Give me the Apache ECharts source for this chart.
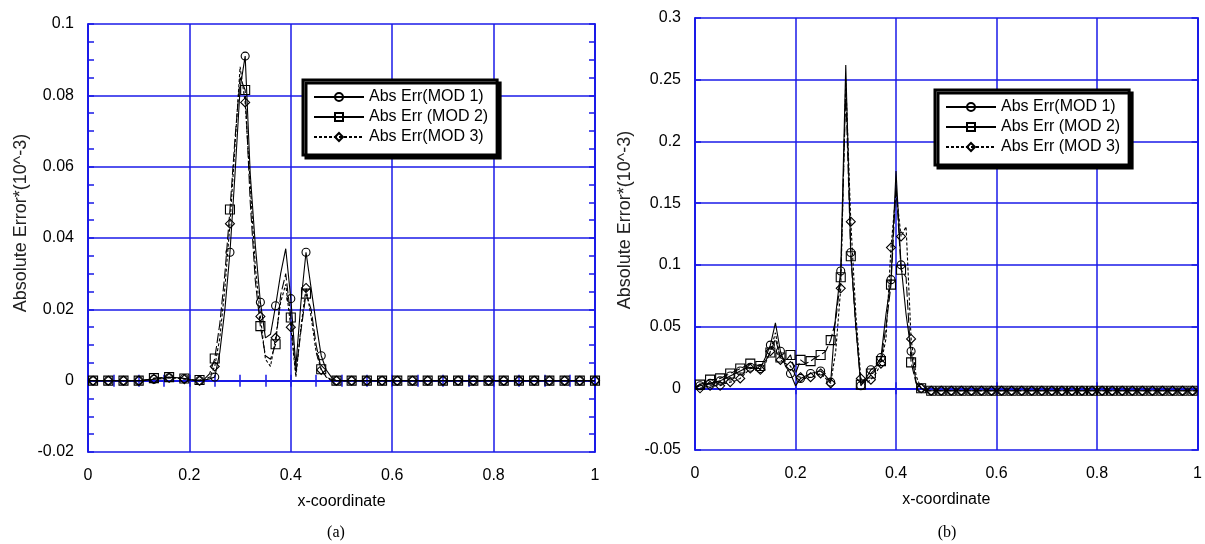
<!DOCTYPE html>
<html>
<head>
<meta charset="utf-8">
<title>Absolute Error</title>
<script src="https://cdn.jsdelivr.net/npm/echarts@6/dist/echarts.min.js"></script>
<style>
  html, body { margin: 0; padding: 0; background: #fff; }
  #main { width: 1205px; height: 544px; }
</style>
</head>
<body>
<div id="main"></div>
<script>
// sampling grid of both panels (0 .. 1, every 0.01)
var xs = [];
for (var i = 0; i <= 100; i++) xs.push(i / 100);

// panel (a)
var errA1 = [
  0, 0, 0, 0, 0, 0, 0, 0, 0, 0,
  0, 0, 0.0002, 0.0004, 0.0005, 0.0006, 0.0008, 0.0009, 0.0008, 0.0006,
  0.0003, 0.0001, 0, 0.0002, 0.0005, 0.001, 0.008, 0.02, 0.036, 0.058,
  0.082, 0.091, 0.058, 0.038, 0.022, 0.012, 0.013, 0.021, 0.03, 0.037,
  0.023, 0.004, 0.022, 0.036, 0.026, 0.016, 0.007, 0.003, 0.001, 0,
  0, 0, 0, 0, 0, 0, 0, 0, 0, 0,
  0, 0, 0, 0, 0, 0, 0, 0, 0, 0,
  0, 0, 0, 0, 0, 0, 0, 0, 0, 0,
  0, 0, 0, 0, 0, 0, 0, 0, 0, 0,
  0, 0, 0, 0, 0, 0, 0, 0, 0, 0,
  0
];
var errA2 = [
  0, 0, 0, 0, 0, 0, 0, 0, 0, 0,
  0, 0.0002, 0.0004, 0.0007, 0.0008, 0.0009, 0.001, 0.0009, 0.0008, 0.0006,
  0.0004, 0.0002, 0.0002, 0.0005, 0.002, 0.0062, 0.016, 0.03, 0.048, 0.068,
  0.085, 0.0815, 0.05, 0.028, 0.0153, 0.007, 0.006, 0.0102, 0.024, 0.03,
  0.0177, 0.002, 0.014, 0.0244, 0.02, 0.01, 0.0032, 0.001, 0.0003, 0,
  0, 0, 0, 0, 0, 0, 0, 0, 0, 0,
  0, 0, 0, 0, 0, 0, 0, 0, 0, 0,
  0, 0, 0, 0, 0, 0, 0, 0, 0, 0,
  0, 0, 0, 0, 0, 0, 0, 0, 0, 0,
  0, 0, 0, 0, 0, 0, 0, 0, 0, 0,
  0
];
var errA3 = [
  0, 0, 0, 0, 0, 0, 0, 0, 0, 0,
  0, 0.0001, 0.0003, 0.0005, 0.0006, 0.0007, 0.0008, 0.0007, 0.0006, 0.0004,
  0.0002, 0.0001, 0, 0.0003, 0.001, 0.004, 0.012, 0.026, 0.044, 0.066,
  0.088, 0.078, 0.055, 0.032, 0.018, 0.006, 0.004, 0.012, 0.022, 0.027,
  0.015, 0.001, 0.015, 0.026, 0.018, 0.008, 0.003, 0.001, 0, 0,
  0, 0, 0, 0, 0, 0, 0, 0, 0, 0,
  0, 0, 0, 0, 0, 0, 0, 0, 0, 0,
  0, 0, 0, 0, 0, 0, 0, 0, 0, 0,
  0, 0, 0, 0, 0, 0, 0, 0, 0, 0,
  0, 0, 0, 0, 0, 0, 0, 0, 0, 0,
  0
];

// panel (b)
var errB1 = [
  0, 0.002, 0.003, 0.004, 0.005, 0.006, 0.008, 0.010, 0.012, 0.014,
  0.016, 0.017, 0.016, 0.016, 0.025, 0.035, 0.053, 0.030, 0.018, 0.012,
  0.002, 0.008, 0.010, 0.012, 0.013, 0.014, 0.010, 0.005, 0.060, 0.095,
  0.262, 0.110, 0.050, 0.002, 0.008, 0.015, 0.018, 0.025, 0.060, 0.088,
  0.176, 0.100, 0.060, 0.030, 0.005, 0, -0.002, -0.002, -0.002, -0.002,
  -0.002, -0.002, -0.002, -0.002, -0.002, -0.002, -0.002, -0.002, -0.002, -0.002,
  -0.002, -0.002, -0.002, -0.002, -0.002, -0.002, -0.002, -0.002, -0.002, -0.002,
  -0.002, -0.002, -0.002, -0.002, -0.002, -0.002, -0.002, -0.002, -0.002, -0.002,
  -0.002, -0.002, -0.002, -0.002, -0.002, -0.002, -0.002, -0.002, -0.002, -0.002,
  -0.002, -0.002, -0.002, -0.002, -0.002, -0.002, -0.002, -0.002, -0.002, -0.002,
  -0.002
];
var errB2 = [
  0.001, 0.003, 0.005, 0.007, 0.007, 0.008, 0.010, 0.012, 0.014, 0.016,
  0.018, 0.020, 0.019, 0.018, 0.022, 0.029, 0.040, 0.025, 0.022, 0.027,
  0.012, 0.023, 0.020, 0.022, 0.025, 0.027, 0.030, 0.039, 0.055, 0.090,
  0.240, 0.107, 0.050, 0.003, 0.006, 0.012, 0.016, 0.022, 0.050, 0.084,
  0.165, 0.096, 0.090, 0.021, 0.004, 0, -0.002, -0.002, -0.002, -0.002,
  -0.002, -0.002, -0.002, -0.002, -0.002, -0.002, -0.002, -0.002, -0.002, -0.002,
  -0.002, -0.002, -0.002, -0.002, -0.002, -0.002, -0.002, -0.002, -0.002, -0.002,
  -0.002, -0.002, -0.002, -0.002, -0.002, -0.002, -0.002, -0.002, -0.002, -0.002,
  -0.002, -0.002, -0.002, -0.002, -0.002, -0.002, -0.002, -0.002, -0.002, -0.002,
  -0.002, -0.002, -0.002, -0.002, -0.002, -0.002, -0.002, -0.002, -0.002, -0.002,
  -0.002
];
var errB3 = [
  0, 0, 0.001, 0.002, 0.002, 0.002, 0.004, 0.005, 0.006, 0.008,
  0.012, 0.016, 0.016, 0.015, 0.020, 0.030, 0.045, 0.023, 0.020, 0.018,
  0.010, 0.009, 0.008, 0.009, 0.010, 0.012, 0.008, 0.004, 0.030, 0.081,
  0.250, 0.135, 0.060, 0.008, 0.004, 0.007, 0.012, 0.020, 0.040, 0.114,
  0.160, 0.123, 0.131, 0.040, 0.010, 0, -0.002, -0.002, -0.002, -0.002,
  -0.002, -0.002, -0.002, -0.002, -0.002, -0.002, -0.002, -0.002, -0.002, -0.002,
  -0.002, -0.002, -0.002, -0.002, -0.002, -0.002, -0.002, -0.002, -0.002, -0.002,
  -0.002, -0.002, -0.002, -0.002, -0.002, -0.002, -0.002, -0.002, -0.002, -0.002,
  -0.002, -0.002, -0.002, -0.002, -0.002, -0.002, -0.002, -0.002, -0.002, -0.002,
  -0.002, -0.002, -0.002, -0.002, -0.002, -0.002, -0.002, -0.002, -0.002, -0.002,
  -0.002
];

var namesA = ['Abs Err(MOD 1)', 'Abs Err (MOD 2)', 'Abs Err(MOD 3)'];
var namesB = ['Abs Err(MOD 1)', 'Abs Err (MOD 2)', 'Abs Err (MOD 3)'];

var FONT = '"Liberation Sans", Arial, sans-serif';
var BLUE = '#1a1ae8';

// pair values with x; a marker only every `every` points
function pts(ys, every, offset) {
  return ys.map(function (y, i) {
    var p = { value: [xs[i], y] };
    if (i % every !== offset) p.symbol = 'none';
    return p;
  });
}

function xAxes(grid, minor) {
  var base = {
    type: 'value', gridIndex: grid, min: 0, max: 1, interval: 0.2,
    axisLine: { lineStyle: { color: BLUE, width: 2 } },
    axisTick: { inside: true, length: 6, lineStyle: { color: BLUE, width: 1.5 } },
    minorTick: { show: minor, splitNumber: 4, length: 6, lineStyle: { color: BLUE, width: 1.5 } }
  };
  return [
    Object.assign({}, base, {
      position: 'bottom',
      axisLabel: { color: '#000', fontSize: 16, fontFamily: FONT, margin: 16 },
      splitLine: { show: true, lineStyle: { color: BLUE, width: 1.5 } },
      name: 'x-coordinate', nameLocation: 'middle', nameGap: 42,
      nameTextStyle: { color: '#000', fontSize: 16, fontFamily: FONT }
    }),
    Object.assign({}, base, { position: 'top', axisLabel: { show: false }, splitLine: { show: false } })
  ];
}

function yAxes(grid, min, max, step, minor, gap, lift) {
  var base = {
    type: 'value', gridIndex: grid, min: min, max: max, interval: step,
    axisLine: { onZero: false, lineStyle: { color: BLUE, width: 2 } },
    axisTick: { inside: true, length: 6, lineStyle: { color: BLUE, width: 1.5 } },
    minorTick: { show: minor, splitNumber: 4, length: 6, lineStyle: { color: BLUE, width: 1.5 } }
  };
  return [
    Object.assign({}, base, {
      position: 'left',
      axisLabel: { color: '#000', fontSize: 16, fontFamily: FONT, margin: 14 },
      splitLine: { show: true, lineStyle: { color: BLUE, width: 1.5 } },
      name: 'Absolute Error*(10^-3)', nameLocation: 'middle', nameGap: gap,
      nameTextStyle: { color: '#222', fontSize: 18, fontFamily: FONT, padding: [0, 0, 0, lift] }
    }),
    Object.assign({}, base, { position: 'right', axisLabel: { show: false }, splitLine: { show: false } })
  ];
}

function makeSeries(names, data, xi, yi, every, offset) {
  var symbols = ['circle', 'rect', 'diamond'];
  var sizes = [8, 9, 9];
  var dashes = ['solid', [10, 3], [3, 2]];
  return names.map(function (n, k) {
    return {
      name: n, type: 'line', xAxisIndex: xi, yAxisIndex: yi,
      data: pts(data[k], every, offset),
      symbol: symbols[k], symbolSize: sizes[k], showAllSymbol: true,
      lineStyle: { color: '#000', width: 1.1, type: dashes[k] },
      itemStyle: { color: 'rgba(255,255,255,0)', borderColor: '#000', borderWidth: 1.1 },
      emphasis: { disabled: true },
      animation: false, z: 3 - k
    };
  });
}

function legendAt(left, top, names) {
  return {
    data: names.map(function (n, k) {
      return k === 1 ? { name: n, lineStyle: { type: 'solid' } } : { name: n };
    }),
    orient: 'vertical', left: left, top: top,
    itemWidth: 50, itemHeight: 10, itemGap: 4,
    padding: [9, 9, 10, 10],
    backgroundColor: '#fff', borderColor: '#000', borderWidth: 3,
    shadowColor: '#000', shadowBlur: 0, shadowOffsetX: 3, shadowOffsetY: 3,
    textStyle: { color: '#000', fontSize: 16, fontFamily: FONT },
    selectedMode: false
  };
}

var chart = echarts.init(document.getElementById('main'));
chart.setOption({
  backgroundColor: '#fff',
  animation: false,
  grid: [
    { left: 88, top: 24, width: 507, height: 428 },
    { left: 695, top: 18, width: 504, height: 432 }
  ],
  xAxis: xAxes(0, true).concat(xAxes(1, false)),
  yAxis: yAxes(0, -0.02, 0.1, 0.02, true, 58, 30).concat(yAxes(1, -0.05, 0.3, 0.05, false, 61, 28)),
  legend: [legendAt(303, 80, namesA), legendAt(935, 90, namesB)],
  graphic: [
    { type: 'text', x: 336, y: 533, style: { text: '(a)', font: '16px "Liberation Serif", "Times New Roman", serif', fill: '#000', align: 'center', verticalAlign: 'middle' } },
    { type: 'text', x: 947, y: 533, style: { text: '(b)', font: '16px "Liberation Serif", "Times New Roman", serif', fill: '#000', align: 'center', verticalAlign: 'middle' } }
  ],
  series: makeSeries(namesA, [errA1, errA2, errA3], 0, 0, 3, 1)
    .concat(makeSeries(namesB, [errB1, errB2, errB3], 2, 2, 2, 1))
});
</script>
</body>
</html>
